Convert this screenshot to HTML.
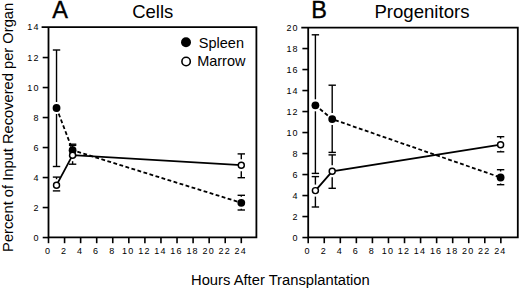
<!DOCTYPE html>
<html><head><meta charset="utf-8"><style>
html,body{margin:0;padding:0;background:#fff;}
body{width:520px;height:290px;overflow:hidden;}
svg{display:block;}
text{font-family:"Liberation Sans",sans-serif;fill:#000;stroke:none;}
</style></head><body>
<svg width="520" height="290" viewBox="0 0 520 290" stroke="#000" fill="none">
<path d="M42.50,27.10 H256.40 V237.40 H48.50 V27.10" fill="none" stroke-width="1.8" stroke-linejoin="miter" stroke-linecap="square"/>
<line x1="42.70" y1="237.55" x2="48.50" y2="237.55" stroke-width="1.6" />
<text x="39.70" y="240.85" font-size="9" text-anchor="end" letter-spacing="1.2">0</text>
<line x1="42.70" y1="207.55" x2="48.50" y2="207.55" stroke-width="1.6" />
<text x="39.70" y="210.85" font-size="9" text-anchor="end" letter-spacing="1.2">2</text>
<line x1="42.70" y1="177.55" x2="48.50" y2="177.55" stroke-width="1.6" />
<text x="39.70" y="180.85" font-size="9" text-anchor="end" letter-spacing="1.2">4</text>
<line x1="42.70" y1="147.55" x2="48.50" y2="147.55" stroke-width="1.6" />
<text x="39.70" y="150.85" font-size="9" text-anchor="end" letter-spacing="1.2">6</text>
<line x1="42.70" y1="117.55" x2="48.50" y2="117.55" stroke-width="1.6" />
<text x="39.70" y="120.85" font-size="9" text-anchor="end" letter-spacing="1.2">8</text>
<line x1="42.70" y1="87.55" x2="48.50" y2="87.55" stroke-width="1.6" />
<text x="39.70" y="90.85" font-size="9" text-anchor="end" letter-spacing="1.2">10</text>
<line x1="42.70" y1="57.55" x2="48.50" y2="57.55" stroke-width="1.6" />
<text x="39.70" y="60.85" font-size="9" text-anchor="end" letter-spacing="1.2">12</text>
<text x="39.70" y="30.40" font-size="9" text-anchor="end" letter-spacing="1.2">14</text>
<line x1="48.50" y1="237.40" x2="48.50" y2="243.20" stroke-width="1.6" />
<text x="48.00" y="253.5" font-size="9" text-anchor="middle" letter-spacing="1.2">0</text>
<line x1="64.57" y1="237.40" x2="64.57" y2="243.20" stroke-width="1.6" />
<text x="64.07" y="253.5" font-size="9" text-anchor="middle" letter-spacing="1.2">2</text>
<line x1="80.63" y1="237.40" x2="80.63" y2="243.20" stroke-width="1.6" />
<text x="80.13" y="253.5" font-size="9" text-anchor="middle" letter-spacing="1.2">4</text>
<line x1="96.70" y1="237.40" x2="96.70" y2="243.20" stroke-width="1.6" />
<text x="96.20" y="253.5" font-size="9" text-anchor="middle" letter-spacing="1.2">6</text>
<line x1="112.76" y1="237.40" x2="112.76" y2="243.20" stroke-width="1.6" />
<text x="112.26" y="253.5" font-size="9" text-anchor="middle" letter-spacing="1.2">8</text>
<line x1="128.83" y1="237.40" x2="128.83" y2="243.20" stroke-width="1.6" />
<text x="128.33" y="253.5" font-size="9" text-anchor="middle" letter-spacing="1.2">10</text>
<line x1="144.90" y1="237.40" x2="144.90" y2="243.20" stroke-width="1.6" />
<text x="144.40" y="253.5" font-size="9" text-anchor="middle" letter-spacing="1.2">12</text>
<line x1="160.96" y1="237.40" x2="160.96" y2="243.20" stroke-width="1.6" />
<text x="160.46" y="253.5" font-size="9" text-anchor="middle" letter-spacing="1.2">14</text>
<line x1="177.03" y1="237.40" x2="177.03" y2="243.20" stroke-width="1.6" />
<text x="176.53" y="253.5" font-size="9" text-anchor="middle" letter-spacing="1.2">16</text>
<line x1="193.09" y1="237.40" x2="193.09" y2="243.20" stroke-width="1.6" />
<text x="192.59" y="253.5" font-size="9" text-anchor="middle" letter-spacing="1.2">18</text>
<line x1="209.16" y1="237.40" x2="209.16" y2="243.20" stroke-width="1.6" />
<text x="208.66" y="253.5" font-size="9" text-anchor="middle" letter-spacing="1.2">20</text>
<line x1="225.23" y1="237.40" x2="225.23" y2="243.20" stroke-width="1.6" />
<text x="224.73" y="253.5" font-size="9" text-anchor="middle" letter-spacing="1.2">22</text>
<line x1="241.29" y1="237.40" x2="241.29" y2="243.20" stroke-width="1.6" />
<text x="240.79" y="253.5" font-size="9" text-anchor="middle" letter-spacing="1.2">24</text>
<path d="M302.20,27.55 H517.80 V237.40 H308.20 V27.55" fill="none" stroke-width="1.8" stroke-linejoin="miter" stroke-linecap="square"/>
<line x1="302.40" y1="237.55" x2="308.20" y2="237.55" stroke-width="1.6" />
<text x="298.80" y="240.85" font-size="9" text-anchor="end" letter-spacing="1.2">0</text>
<line x1="302.40" y1="216.55" x2="308.20" y2="216.55" stroke-width="1.6" />
<text x="298.80" y="219.85" font-size="9" text-anchor="end" letter-spacing="1.2">2</text>
<line x1="302.40" y1="195.55" x2="308.20" y2="195.55" stroke-width="1.6" />
<text x="298.80" y="198.85" font-size="9" text-anchor="end" letter-spacing="1.2">4</text>
<line x1="302.40" y1="174.55" x2="308.20" y2="174.55" stroke-width="1.6" />
<text x="298.80" y="177.85" font-size="9" text-anchor="end" letter-spacing="1.2">6</text>
<line x1="302.40" y1="153.55" x2="308.20" y2="153.55" stroke-width="1.6" />
<text x="298.80" y="156.85" font-size="9" text-anchor="end" letter-spacing="1.2">8</text>
<line x1="302.40" y1="132.55" x2="308.20" y2="132.55" stroke-width="1.6" />
<text x="298.80" y="135.85" font-size="9" text-anchor="end" letter-spacing="1.2">10</text>
<line x1="302.40" y1="111.55" x2="308.20" y2="111.55" stroke-width="1.6" />
<text x="298.80" y="114.85" font-size="9" text-anchor="end" letter-spacing="1.2">12</text>
<line x1="302.40" y1="90.55" x2="308.20" y2="90.55" stroke-width="1.6" />
<text x="298.80" y="93.85" font-size="9" text-anchor="end" letter-spacing="1.2">14</text>
<line x1="302.40" y1="69.55" x2="308.20" y2="69.55" stroke-width="1.6" />
<text x="298.80" y="72.85" font-size="9" text-anchor="end" letter-spacing="1.2">16</text>
<line x1="302.40" y1="48.55" x2="308.20" y2="48.55" stroke-width="1.6" />
<text x="298.80" y="51.85" font-size="9" text-anchor="end" letter-spacing="1.2">18</text>
<text x="298.80" y="30.85" font-size="9" text-anchor="end" letter-spacing="1.2">20</text>
<line x1="308.20" y1="237.40" x2="308.20" y2="243.20" stroke-width="1.6" />
<text x="307.70" y="253.5" font-size="9" text-anchor="middle" letter-spacing="1.2">0</text>
<line x1="324.25" y1="237.40" x2="324.25" y2="243.20" stroke-width="1.6" />
<text x="323.75" y="253.5" font-size="9" text-anchor="middle" letter-spacing="1.2">2</text>
<line x1="340.31" y1="237.40" x2="340.31" y2="243.20" stroke-width="1.6" />
<text x="339.81" y="253.5" font-size="9" text-anchor="middle" letter-spacing="1.2">4</text>
<line x1="356.36" y1="237.40" x2="356.36" y2="243.20" stroke-width="1.6" />
<text x="355.86" y="253.5" font-size="9" text-anchor="middle" letter-spacing="1.2">6</text>
<line x1="372.42" y1="237.40" x2="372.42" y2="243.20" stroke-width="1.6" />
<text x="371.92" y="253.5" font-size="9" text-anchor="middle" letter-spacing="1.2">8</text>
<line x1="388.47" y1="237.40" x2="388.47" y2="243.20" stroke-width="1.6" />
<text x="387.97" y="253.5" font-size="9" text-anchor="middle" letter-spacing="1.2">10</text>
<line x1="404.52" y1="237.40" x2="404.52" y2="243.20" stroke-width="1.6" />
<text x="404.02" y="253.5" font-size="9" text-anchor="middle" letter-spacing="1.2">12</text>
<line x1="420.58" y1="237.40" x2="420.58" y2="243.20" stroke-width="1.6" />
<text x="420.08" y="253.5" font-size="9" text-anchor="middle" letter-spacing="1.2">14</text>
<line x1="436.63" y1="237.40" x2="436.63" y2="243.20" stroke-width="1.6" />
<text x="436.13" y="253.5" font-size="9" text-anchor="middle" letter-spacing="1.2">16</text>
<line x1="452.69" y1="237.40" x2="452.69" y2="243.20" stroke-width="1.6" />
<text x="452.19" y="253.5" font-size="9" text-anchor="middle" letter-spacing="1.2">18</text>
<line x1="468.74" y1="237.40" x2="468.74" y2="243.20" stroke-width="1.6" />
<text x="468.24" y="253.5" font-size="9" text-anchor="middle" letter-spacing="1.2">20</text>
<line x1="484.79" y1="237.40" x2="484.79" y2="243.20" stroke-width="1.6" />
<text x="484.29" y="253.5" font-size="9" text-anchor="middle" letter-spacing="1.2">22</text>
<line x1="500.85" y1="237.40" x2="500.85" y2="243.20" stroke-width="1.6" />
<text x="500.35" y="253.5" font-size="9" text-anchor="middle" letter-spacing="1.2">24</text>
<line x1="56.53" y1="50.00" x2="56.53" y2="102.00" stroke-width="1.4" />
<line x1="56.53" y1="114.00" x2="56.53" y2="166.50" stroke-width="1.4" />
<line x1="52.83" y1="50.00" x2="60.23" y2="50.00" stroke-width="1.4" />
<line x1="52.83" y1="166.50" x2="60.23" y2="166.50" stroke-width="1.4" />
<line x1="68.90" y1="144.20" x2="76.30" y2="144.20" stroke-width="1.4" />
<line x1="68.90" y1="156.00" x2="76.30" y2="156.00" stroke-width="1.4" />
<line x1="241.29" y1="195.30" x2="241.29" y2="196.80" stroke-width="1.4" />
<line x1="241.29" y1="208.80" x2="241.29" y2="210.00" stroke-width="1.4" />
<line x1="237.59" y1="195.30" x2="244.99" y2="195.30" stroke-width="1.4" />
<line x1="237.59" y1="210.00" x2="244.99" y2="210.00" stroke-width="1.4" />
<line x1="56.53" y1="177.10" x2="56.53" y2="179.20" stroke-width="1.4" />
<line x1="52.83" y1="177.10" x2="60.23" y2="177.10" stroke-width="1.4" />
<line x1="52.83" y1="190.90" x2="60.23" y2="190.90" stroke-width="1.4" />
<line x1="72.60" y1="145.40" x2="72.60" y2="149.20" stroke-width="1.4" />
<line x1="72.60" y1="161.20" x2="72.60" y2="164.20" stroke-width="1.4" />
<line x1="68.90" y1="145.40" x2="76.30" y2="145.40" stroke-width="1.4" />
<line x1="68.90" y1="164.20" x2="76.30" y2="164.20" stroke-width="1.4" />
<line x1="241.29" y1="153.90" x2="241.29" y2="159.20" stroke-width="1.4" />
<line x1="241.29" y1="171.20" x2="241.29" y2="177.70" stroke-width="1.4" />
<line x1="237.59" y1="153.90" x2="244.99" y2="153.90" stroke-width="1.4" />
<line x1="237.59" y1="177.70" x2="244.99" y2="177.70" stroke-width="1.4" />
<polyline points="56.53,108.00 72.60,150.20 241.29,202.80" fill="none" stroke-width="1.8" stroke-dasharray="3.85 2.45" stroke-dashoffset="0.3"/>
<polyline points="56.53,185.20 72.60,155.20 241.29,165.20" fill="none" stroke-width="1.8"/>
<circle cx="56.53" cy="108.00" r="3.9" fill="#000" stroke="none"/>
<circle cx="72.60" cy="150.20" r="3.9" fill="#000" stroke="none"/>
<circle cx="241.29" cy="202.80" r="3.9" fill="#000" stroke="none"/>
<circle cx="56.53" cy="185.20" r="3.0" fill="#fff" stroke-width="1.45"/>
<circle cx="72.60" cy="155.20" r="3.0" fill="#fff" stroke-width="1.45"/>
<circle cx="241.29" cy="165.20" r="3.0" fill="#fff" stroke-width="1.45"/>
<line x1="315.40" y1="34.80" x2="315.40" y2="99.30" stroke-width="1.4" />
<line x1="315.40" y1="111.30" x2="315.40" y2="173.40" stroke-width="1.4" />
<line x1="311.70" y1="34.80" x2="319.10" y2="34.80" stroke-width="1.4" />
<line x1="311.70" y1="173.40" x2="319.10" y2="173.40" stroke-width="1.4" />
<line x1="332.20" y1="85.20" x2="332.20" y2="113.10" stroke-width="1.4" />
<line x1="332.20" y1="125.10" x2="332.20" y2="152.40" stroke-width="1.4" />
<line x1="328.50" y1="85.20" x2="335.90" y2="85.20" stroke-width="1.4" />
<line x1="328.50" y1="152.40" x2="335.90" y2="152.40" stroke-width="1.4" />
<line x1="500.60" y1="169.70" x2="500.60" y2="171.50" stroke-width="1.4" />
<line x1="500.60" y1="183.50" x2="500.60" y2="184.70" stroke-width="1.4" />
<line x1="496.90" y1="169.70" x2="504.30" y2="169.70" stroke-width="1.4" />
<line x1="496.90" y1="184.70" x2="504.30" y2="184.70" stroke-width="1.4" />
<line x1="315.40" y1="176.60" x2="315.40" y2="184.60" stroke-width="1.4" />
<line x1="315.40" y1="196.60" x2="315.40" y2="207.00" stroke-width="1.4" />
<line x1="311.70" y1="176.60" x2="319.10" y2="176.60" stroke-width="1.4" />
<line x1="311.70" y1="207.00" x2="319.10" y2="207.00" stroke-width="1.4" />
<line x1="332.20" y1="154.90" x2="332.20" y2="165.30" stroke-width="1.4" />
<line x1="332.20" y1="177.30" x2="332.20" y2="188.30" stroke-width="1.4" />
<line x1="328.50" y1="154.90" x2="335.90" y2="154.90" stroke-width="1.4" />
<line x1="328.50" y1="188.30" x2="335.90" y2="188.30" stroke-width="1.4" />
<line x1="500.60" y1="136.70" x2="500.60" y2="138.70" stroke-width="1.4" />
<line x1="500.60" y1="150.70" x2="500.60" y2="151.80" stroke-width="1.4" />
<line x1="496.90" y1="136.70" x2="504.30" y2="136.70" stroke-width="1.4" />
<line x1="496.90" y1="151.80" x2="504.30" y2="151.80" stroke-width="1.4" />
<polyline points="315.40,105.30 332.20,119.10 500.60,177.50" fill="none" stroke-width="1.8" stroke-dasharray="3.85 2.45" stroke-dashoffset="0.45"/>
<polyline points="315.40,190.60 332.20,171.30 500.60,144.70" fill="none" stroke-width="1.8"/>
<circle cx="315.40" cy="105.30" r="3.9" fill="#000" stroke="none"/>
<circle cx="332.20" cy="119.10" r="3.9" fill="#000" stroke="none"/>
<circle cx="500.60" cy="177.50" r="3.9" fill="#000" stroke="none"/>
<circle cx="315.40" cy="190.60" r="3.0" fill="#fff" stroke-width="1.45"/>
<circle cx="332.20" cy="171.30" r="3.0" fill="#fff" stroke-width="1.45"/>
<circle cx="500.60" cy="144.70" r="3.0" fill="#fff" stroke-width="1.45"/>
<circle cx="186" cy="42.3" r="5" fill="#000" stroke="none"/>
<circle cx="186.1" cy="61.5" r="4.2" fill="#fff" stroke-width="1.6"/>
<text x="198.85" y="48.20" font-size="14.5" text-anchor="start" >Spleen</text>
<text x="197.14" y="66.40" font-size="14.5" text-anchor="start" >Marrow</text>
<text x="52.30" y="18.00" font-size="23.5" text-anchor="start" style="stroke:#000;stroke-width:0.35">A</text>
<text x="132.17" y="18.20" font-size="18.5" text-anchor="start" >Cells</text>
<text x="311.18" y="18.20" font-size="23.5" text-anchor="start" style="stroke:#000;stroke-width:0.35">B</text>
<text x="374.41" y="18.00" font-size="18.6" text-anchor="start" >Progenitors</text>
<text x="191.02" y="285.00" font-size="14.75" text-anchor="start" >Hours After Transplantation</text>
<text x="0" y="0" font-size="14.7" transform="translate(12.6,251.88) rotate(-90)">Percent of Input Recovered per Organ</text>
</svg>
</body></html>
